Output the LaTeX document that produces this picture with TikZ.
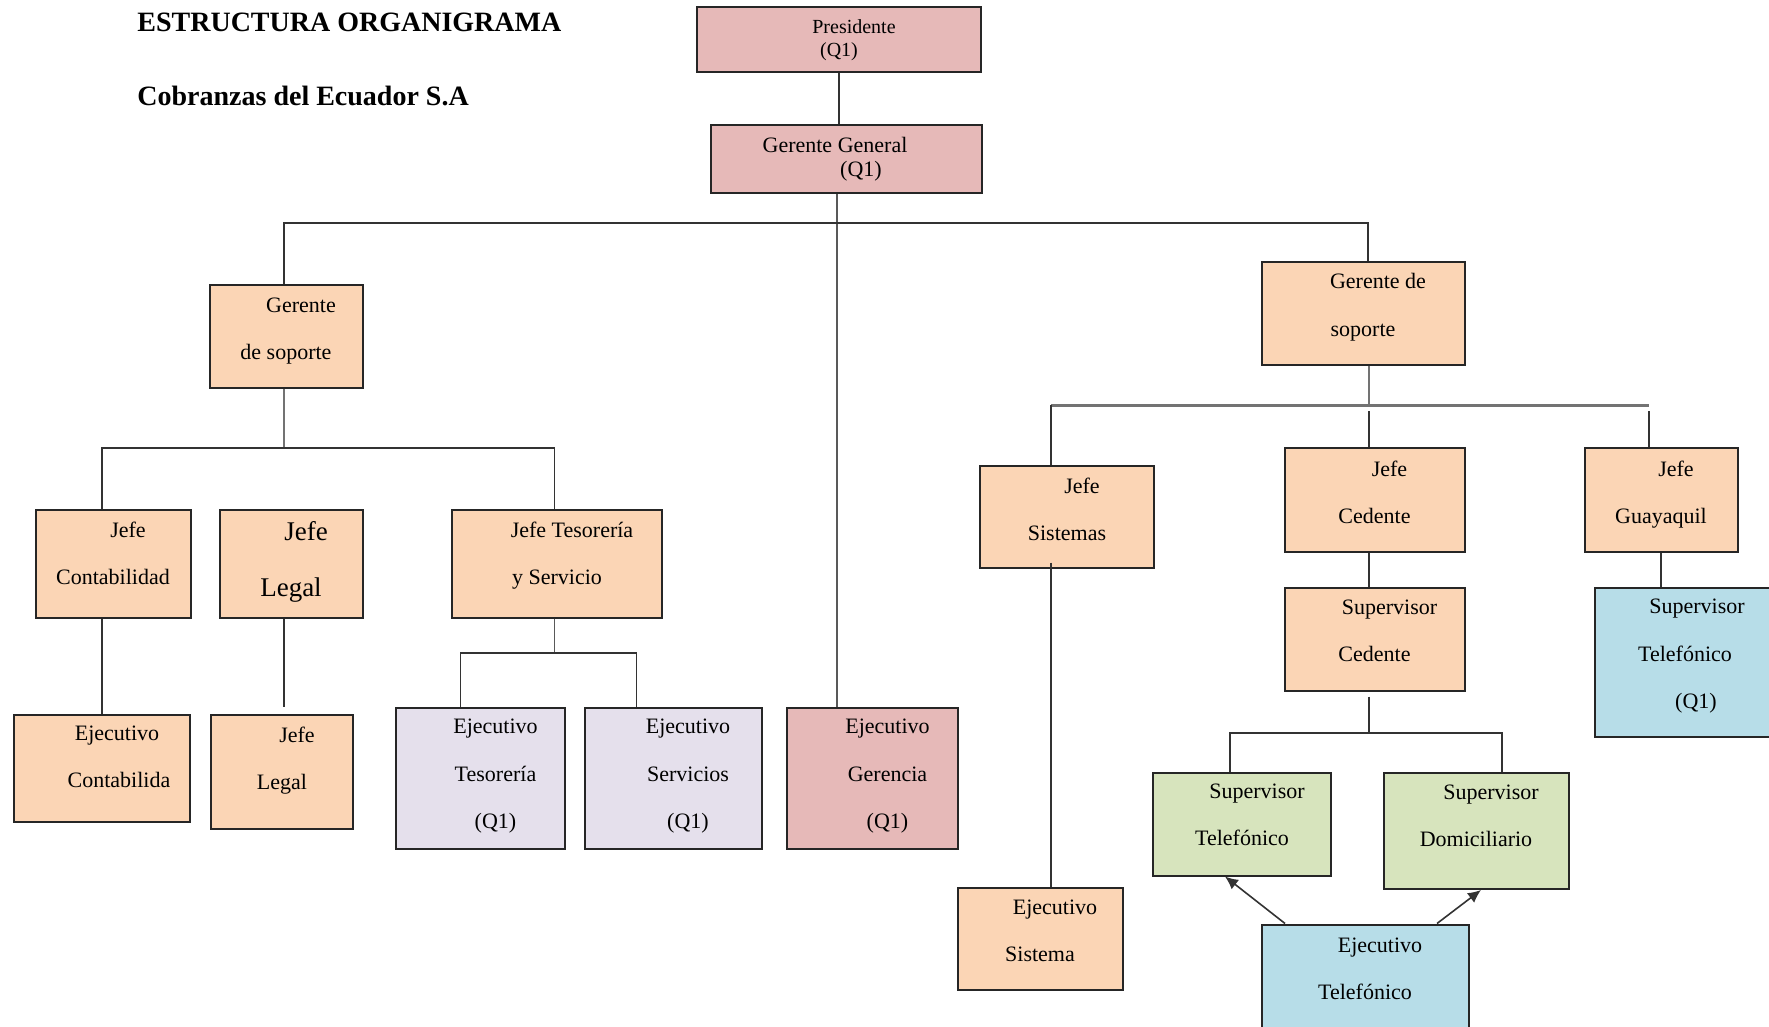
\documentclass[tikz,border=0pt]{standalone}
\usepackage{xcolor}
\usepackage{fontspec}
\setmainfont{Liberation Serif}
\usetikzlibrary{arrows.meta}

\definecolor{durazno}{HTML}{FBD5B5}
\definecolor{rosa}{HTML}{E6B9B8}
\definecolor{lila}{HTML}{E5E0EC}
\definecolor{verde}{HTML}{D7E4BD}
\definecolor{celeste}{HTML}{B7DDE8}

\newcommand{\corrido}{\hspace*{15pt}}
\newcommand{\alza}[1]{\rule[-#1]{0pt}{0pt}}

\begin{document}
\begin{tikzpicture}[x=0.5pt, y=-0.5pt,
	caja/.style={draw=black!85, line width=1pt, align=center, inner sep=0pt,
		font=\fontsize{11}{23.7}\selectfont},
	sz/.style 2 args={minimum width=#1*0.5pt, minimum height=#2*0.5pt},
	cdur/.style={caja, fill=durazno},
	crosa/.style={caja, fill=rosa},
	clila/.style={caja, fill=lila},
	cverde/.style={caja, fill=verde},
	cceleste/.style={caja, fill=celeste},
	titulo/.style={anchor=base west, inner sep=0pt,
		font=\fontsize{14}{16}\selectfont\bfseries},
	linea/.style={draw=black!80, line width=0.8pt},
	lineagris/.style={draw=black!55, line width=1.4pt},
	flecha/.style={linea, -{Latex[length=6.5pt,width=6pt]}}]
	% Organigrama de Cobranzas del Ecuador
	\path[use as bounding box, fill=white] (0,0) rectangle (1769,1027);
	
	\node[titulo] (estructura) at (137,32) {ESTRUCTURA ORGANIGRAMA};
	\node[titulo] (empresa) at (137,106) {Cobranzas del Ecuador S.A};
	
	\node[crosa, sz={284}{65}, font=\fontsize{10}{11.5}\selectfont] (pres) at (839,40) {\corrido Presidente\\(Q1)};
	\node[crosa, sz={271}{68}, font=\fontsize{11}{12}\selectfont] (gg) at (846,159) {Gerente General\hspace*{11pt}\\\corrido(Q1)};
	
	\node[cdur, sz={153}{103}] (gsl) at (286,337) {\corrido Gerente\\de soporte\alza{8pt}};
	\node[cdur, sz={155}{107}] (jcon) at (113,564) {\corrido Jefe\\Contabilidad\alza{11pt}};
	\node[cdur, sz={143}{107}, font=\fontsize{13.5}{28}\selectfont] (jleg) at (291,564) {\corrido Jefe\\Legal\alza{5pt}};
	\node[cdur, sz={210}{107}] (jtes) at (557,564) {\corrido Jefe Tesorería\\y Servicio\alza{11pt}};
	\node[cdur, sz={176}{107}] (econ) at (102,768) {\corrido Ejecutivo\\\hspace*{17pt}Contabilida\alza{11pt}};
	\node[cdur, sz={142}{114}] (jleg2) at (282,772) {\corrido Jefe\\Legal\alza{14pt}};
	\node[clila, sz={169}{141}] (etes) at (480.5,778) {\corrido Ejecutivo\\\corrido Tesorería\\\corrido(Q1)\alza{4pt}};
	\node[clila, sz={177}{141}] (eser) at (673,778) {\corrido Ejecutivo\\\corrido Servicios\\\corrido(Q1)\alza{4pt}};
	\node[crosa, sz={171}{141}] (eger) at (872.5,778) {\corrido Ejecutivo\\\corrido Gerencia\\\corrido(Q1)\alza{4pt}};
	
	\node[cdur, sz={203}{103}] (gsr) at (1363,314) {\corrido Gerente de\\soporte\alza{9pt}};
	\node[cdur, sz={174}{101}] (jsis) at (1067,517) {\corrido Jefe\\Sistemas\alza{8pt}};
	\node[cdur, sz={180}{103}] (jced) at (1374.5,500) {\corrido Jefe\\Cedente\alza{8pt}};
	\node[cdur, sz={153}{103}] (jgua) at (1661,500) {\corrido Jefe\\Guayaquil\alza{8pt}};
	\node[cdur, sz={180}{103}] (sced) at (1374.5,639) {\corrido Supervisor\\Cedente\alza{8pt}};
	\node[cceleste, sz={181}{149}] (stq) at (1685,662) {\hspace*{12pt}Supervisor\\Telefónico\hspace*{4.5pt}\\\hspace*{11pt}(Q1)\alza{8pt}};
	\node[cverde, sz={178}{103}] (stel) at (1242,824) {\corrido Supervisor\\Telefónico\alza{9pt}};
	\node[cverde, sz={185}{116}] (sdom) at (1476,831) {\corrido Supervisor\\Domiciliario\alza{15pt}};
	\node[cdur, sz={165}{102}] (esis) at (1040,938.5) {\corrido Ejecutivo\\Sistema\alza{8pt}};
	\node[cceleste, sz={207}{103}] (etel) at (1365,976) {\corrido Ejecutivo\\Telefónico\alza{7pt}};
	
	% lineas
	\coordinate (tronco) at (837,223);
	\coordinate (busI) at (284,223);
	\coordinate (busD) at (1368,223);
	\draw[linea] (pres.south) -- (pres.south |- gg.north);
	\draw[linea, draw=black!65] (gg.south -| tronco) -- (tronco |- eger.north);
	\draw[linea] (busI |- gsl.north) -- (busI) -- (busD) -- (busD |- gsr.north);
	
	\coordinate (izqA) at (102,448);
	\coordinate (izqB) at (554.5,448);
	\draw[lineagris, line width=1.1pt] (busI |- gsl.south) -- (busI |- izqA);
	\draw[linea] (izqA |- jcon.north) -- (izqA) -- (izqB) -- (izqB |- jtes.north);
	\draw[linea] (izqA |- jcon.south) -- (izqA |- econ.north);
	\draw[linea] (busI |- jleg.south) -- ([yshift=3.5pt]busI |- jleg2.north);
	
	\coordinate (tesA) at (460.5,653);
	\coordinate (tesB) at (636.5,653);
	\draw[linea, draw=black!65] (izqB |- jtes.south) -- (izqB |- tesA);
	\draw[linea] (tesA |- etes.north) -- (tesA) -- (tesB) -- (tesB |- eser.north);
	
	\coordinate (derA) at (1051,405.5);
	\coordinate (derM) at (1369,405.5);
	\coordinate (derB) at (1649,405.5);
	\draw[lineagris] (derM |- gsr.south) -- (derM);
	\draw[lineagris] (derA) -- (derB);
	\draw[linea] (derA |- jsis.north) -- (derA);
	\draw[linea] ([yshift=-3pt]derM) -- (derM |- jced.north);
	\draw[linea] ([yshift=-3pt]derB) -- (derB |- jgua.north);
	\draw[linea] (derM |- jced.south) -- (derM |- sced.north);
	\draw[linea] (jgua.south) -- (jgua.south |- stq.north);
	\draw[linea] ([yshift=3pt]derA |- jsis.south) -- (derA |- esis.north);
	
	\coordinate (cedA) at (1230,733);
	\coordinate (cedB) at (1502,733);
	\draw[linea] ([yshift=-2.5pt]derM |- sced.south) -- (derM |- cedA);
	\draw[linea] (cedA |- stel.north) -- (cedA) -- (cedB) -- (cedB |- sdom.north);
	\draw[flecha] ([xshift=-40pt]etel.north) -- ([xshift=-8.5pt]stel.south);
	\draw[flecha] ([xshift=36pt]etel.north) -- ([xshift=2.5pt]sdom.south);
\end{tikzpicture}
\end{document}
